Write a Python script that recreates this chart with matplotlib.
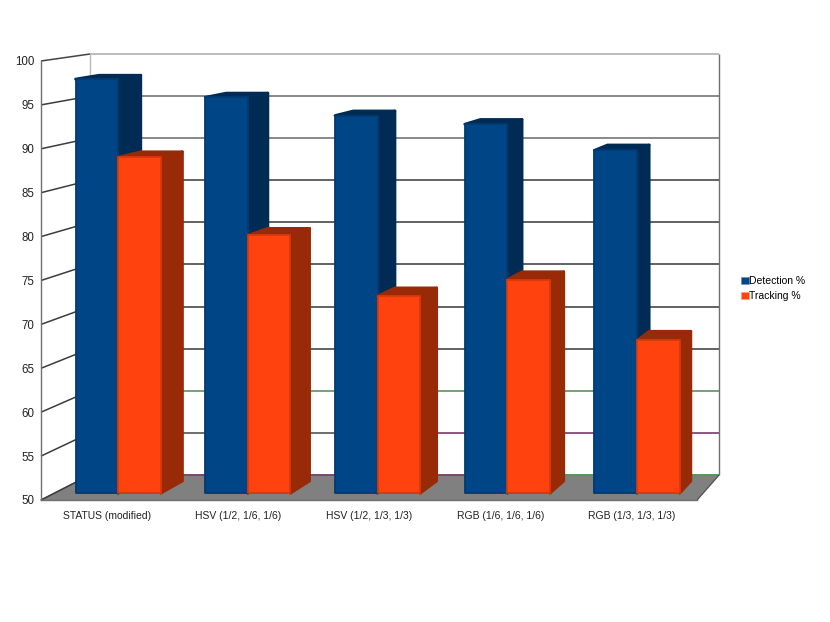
import numpy as np
import matplotlib
matplotlib.use('Agg')
import matplotlib.pyplot as plt
from matplotlib.patches import Polygon, Patch

plt.rcParams['font.family'] = ['Liberation Sans', 'DejaVu Sans']

categories = ['STATUS (modified)', 'HSV (1/2, 1/6, 1/6)', 'HSV (1/2, 1/3, 1/3)',
              'RGB (1/6, 1/6, 1/6)', 'RGB (1/3, 1/3, 1/3)']
detection = [97.7, 95.6, 93.5, 92.5, 89.5]
tracking = [88.7, 79.7, 72.7, 74.6, 67.6]
yticks = [50, 55, 60, 65, 70, 75, 80, 85, 90, 95, 100]

W, H = 830, 622
fig = plt.figure(figsize=(W / 100, H / 100), dpi=100)
# front plane of the box in pixels: x 41-697, y 61-500
ax = fig.add_axes([41 / W, 1 - 500 / H, 656 / W, 439 / H])
ax.set_xlim(0, 5)
ax.set_ylim(50, 100)

# back wall of the box, in pixels
bx0, bx1, by_top, by_bot = 90, 719, 54, 475


def proj(x, v, d):
    # x in categories, v in percent, d depth 0 (front) .. 1 (back)
    front_px = 41 + x / 5 * 656
    back_px = bx0 + x / 5 * (bx1 - bx0)
    px = front_px + d * (back_px - front_px)
    front_py = 500 - (v - 50) / 50 * 439
    back_py = by_bot - (v - 50) / 50 * (by_bot - by_top)
    py = front_py + d * (back_py - front_py)
    return (px - 41) / 656 * 5, 50 + (500 - py) / 439 * 50


def poly(pts, face, edge=None, lw=1.0, z=2):
    p = Polygon(pts, closed=True, facecolor=face, edgecolor=edge or face, linewidth=lw,
                joinstyle='round', clip_on=False, zorder=z)
    ax.add_patch(p)


def line(p0, p1, color, lw=1.0, z=1):
    ax.plot([p0[0], p1[0]], [p0[1], p1[1]], color=color, lw=lw, clip_on=False,
            zorder=z, solid_capstyle='butt')


# floor
poly([proj(0, 50, 0), proj(5, 50, 0), proj(5, 50, 1), proj(0, 50, 1)], '#808080', z=1)

# back wall grid, the low lines change colour along their length
for v in yticks:
    if v == 100:
        line(proj(0, v, 1), proj(5, v, 1), '#b8b8b8', 1.3)
    elif v == 60:
        line(proj(0, v, 1), proj(5, v, 1), '#5c9460', 1.2)
    elif v == 55:
        line(proj(0, v, 1), proj(2.5, v, 1), '#555555', 1.2)
        line(proj(2.5, v, 1), proj(5, v, 1), '#7a3a6a', 1.2)
    elif v == 50:
        line(proj(0, v, 1), proj(3.5, v, 1), '#7a3a6a', 1.2)
        line(proj(3.5, v, 1), proj(5, v, 1), '#4a9a50', 1.2)
    elif v >= 90:
        line(proj(0, v, 1), proj(5, v, 1), '#808080', 1.3)
    else:
        line(proj(0, v, 1), proj(5, v, 1), '#555555', 1.3)
    if v < 100:
        line(proj(0, v, 0), proj(0, v, 1), '#3c3c3c', 1.1)
line(proj(0, 100, 0), proj(0, 100, 1), '#444444', 1.1)
line(proj(0, 50, 1), proj(0, 100, 1), '#b8b8b8', 1.0)
line(proj(5, 50, 1), proj(5, 100, 1), '#707070', 1.0)
line(proj(5, 50, 0), proj(5, 50, 1), '#555555', 0.8)

# bars
d0, d1 = 0.27, 0.76
off, bw = 0.164, 0.328
blue = ('#004586', '#002b55', '#003a72')
orange = ('#ff420e', '#982a08', '#d8390c')


def bar3d(x0, x1, v, cols, z):
    front, dark, mid = cols
    # side and top share the darker colour
    poly([proj(x1, 50, d0), proj(x1, 50, d1), proj(x1, v, d1), proj(x1, v, d0)], dark, lw=2.0, z=z)
    poly([proj(x0, v, d0), proj(x1, v, d0), proj(x1, v, d1), proj(x0, v, d1)], dark, lw=2.0, z=z)
    poly([proj(x0, 50, d0), proj(x1, 50, d0), proj(x1, v, d0), proj(x0, v, d0)], front,
         edge=mid, lw=1.3, z=z + 0.5)


for i in range(len(categories)):
    bar3d(i + off, i + off + bw, detection[i], blue, 3 + i)
    bar3d(i + off + bw, i + off + 2 * bw, tracking[i], orange, 3.7 + i)

for s in ['top', 'right']:
    ax.spines[s].set_visible(False)
for s in ['left', 'bottom']:
    ax.spines[s].set_color('#707070')
    ax.spines[s].set_linewidth(1.0)
    ax.spines[s].set_zorder(2)
ax.patch.set_visible(False)
ax.set_yticks(yticks)
ax.set_xticks(np.arange(len(categories)) + 0.5)
ax.set_xticklabels(categories)
ax.tick_params(axis='both', length=0, labelcolor='#222222')
ax.tick_params(axis='y', pad=5, labelsize=8.3)
ax.tick_params(axis='x', pad=8, labelsize=7.45)

handles = [Patch(facecolor=blue[0], edgecolor='#5f8fbf', lw=0.4, label='Detection %'),
           Patch(facecolor=orange[0], edgecolor='#ff9a80', lw=0.4, label='Tracking %')]
fig.legend(handles=handles, loc='upper left', bbox_to_anchor=(741 / W, 1 - 276 / H),
           frameon=False, fontsize=7.5, handlelength=0.75, handleheight=0.75,
           handletextpad=0.05, labelspacing=0.5, borderpad=0, borderaxespad=0)

fig.savefig('out.png', dpi=100)
